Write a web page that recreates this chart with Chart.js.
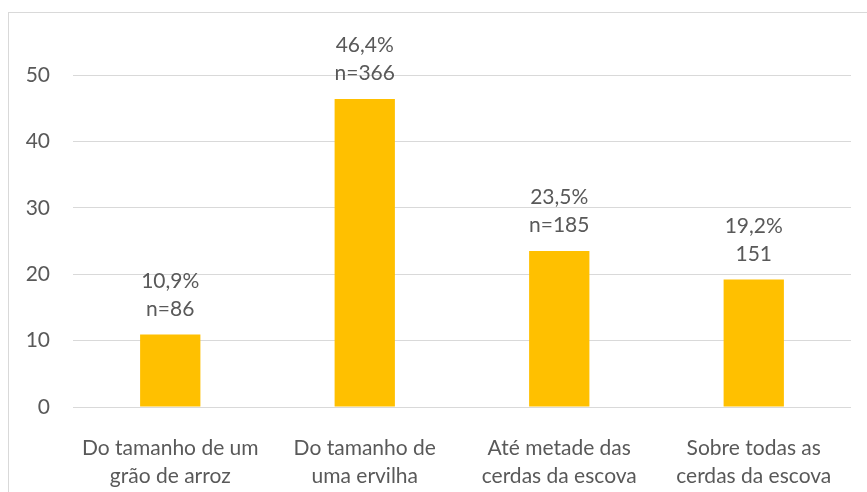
<!DOCTYPE html>
<html>
<head>
<meta charset="utf-8">
<script src="https://cdn.jsdelivr.net/npm/chart.js@4/dist/chart.umd.min.js"></script>
<style>
  html, body { margin: 0; padding: 0; background: #fff; }
  #wrap { width: 867px; height: 492px; }
</style>
</head>
<body>
<div id="wrap"><canvas id="myChart" width="867" height="492"></canvas></div>
<script>
var categories = [
	[ "Do tamanho de um", "grão de arroz" ],
	[ "Do tamanho de", "uma ervilha" ],
	[ "Até metade das", "cerdas da escova" ],
	[ "Sobre todas as", "cerdas da escova" ]
];
var percentValues = [ 10.9, 46.4, 23.5, 19.2 ];
var barLabels = [
	[ "10,9%", "n=86" ],
	[ "46,4%", "n=366" ],
	[ "23,5%", "n=185" ],
	[ "19,2%", "151" ]
];
var yTicks = [ 0, 10, 20, 30, 40, 50 ];

var textColor = "#595959";
var fontFamily = "Lato, 'Liberation Sans', sans-serif";

// moldura cinza clara por tras do grafico
var frame = {
	id : "frame",
	beforeDraw : function(chart) {
		var ctx = chart.ctx;
		ctx.save();
		ctx.strokeStyle = "#d9d9d9";
		ctx.lineWidth = 1;
		ctx.strokeRect(8.5, 12.5, 900, 520);
		ctx.restore();
	}
};

// rotulos em cima das barras
var topLabels = {
	id : "topLabels",
	afterDatasetsDraw : function(chart) {
		var ctx = chart.ctx;
		var meta = chart.getDatasetMeta(0);
		ctx.save();
		ctx.fillStyle = textColor;
		ctx.font = "21px " + fontFamily;
		ctx.textAlign = "center";
		ctx.textBaseline = "alphabetic";
		meta.data.forEach(function(bar, i) {
			var lines = barLabels[i];
			ctx.fillText(lines[0], bar.x, bar.y - 47);
			ctx.fillText(lines[1], bar.x, bar.y - 19);
		});
		ctx.restore();
	}
};

var ctx = document.getElementById("myChart");

var myChart = new Chart(ctx, {
	type : "bar",
	data : {
		labels : categories,
		datasets : [ {
			data : percentValues,
			backgroundColor : "#ffc000",
			barPercentage : 0.31,
			categoryPercentage : 1.0
		} ]
	},
	options : {
		responsive : false,
		animation : false,
		events : [],
		layout : {
			padding : { top : 75, right : 16, left : 0, bottom : 0 }
		},
		plugins : {
			legend : { display : false },
			tooltip : { enabled : false }
		},
		scales : {
			x : {
				grid : { display : false },
				border : { display : false },
				ticks : {
					color : textColor,
					padding : 19,
					maxRotation : 0,
					autoSkip : false,
					font : { family : fontFamily, size : 21, lineHeight : "28px" }
				},
				afterFit : function(scale) { scale.height = 85; }
			},
			y : {
				min : 0,
				max : 50,
				afterBuildTicks : function(scale) {
					scale.ticks = yTicks.map(function(v) { return { value : v }; });
				},
				grid : { color : "#d9d9d9", lineWidth : 1, drawTicks : false },
				border : { display : false },
				ticks : {
					color : textColor,
					padding : 23,
					font : { family : fontFamily, size : 21 }
				},
				afterFit : function(scale) { scale.width = 73; }
			}
		}
	},
	plugins : [ frame, topLabels ]
});
</script>
</body>
</html>
